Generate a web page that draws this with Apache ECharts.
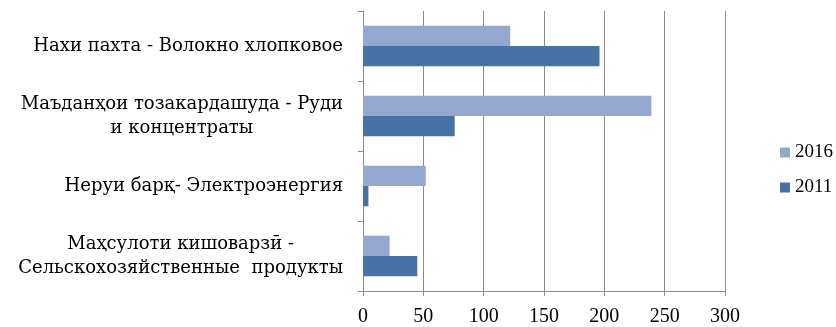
<!DOCTYPE html>
<html>
<head>
<meta charset="utf-8">
<style>
  html, body { margin: 0; padding: 0; background: #ffffff; }
  #chart { width: 836px; height: 327px; }
</style>
<script src="https://cdn.jsdelivr.net/npm/echarts@6/dist/echarts.min.js"></script>
</head>
<body>
<div id="chart"></div>
<script>
// Product groups, listed top to bottom
const categories = [
  'Нахи пахта - Волокно хлопковое',
  'Маъданҳои тозакардашуда - Руди\nи концентраты',
  'Неруи барқ- Электроэнергия',
  'Маҳсулоти кишоварзӣ -\nСельскохозяйственные  продукты'
];
const values2016 = [122, 239, 52, 22];
const values2011 = [196, 76, 4.5, 45];
const xTicks = { min: 0, max: 300, interval: 50 };

const serif = '"Liberation Serif", serif';
const wideSerif = '"DejaVu Serif", serif';
const axisGray = '#8c8c8c';

const chart = echarts.init(document.getElementById('chart'));
chart.setOption({
  animation: false,
  grid: { left: 363, right: 111, top: 11, bottom: 34, containLabel: false },
  legend: {
    orient: 'vertical',
    left: 775,
    top: 138,
    itemWidth: 10,
    itemHeight: 10,
    itemGap: 16,
    icon: 'rect',
    data: ['2016', '2011'],
    textStyle: { fontFamily: serif, fontSize: 19, lineHeight: 19, color: '#000' }
  },
  xAxis: {
    type: 'value',
    min: xTicks.min,
    max: xTicks.max,
    interval: xTicks.interval,
    axisLine: { show: true, lineStyle: { color: axisGray, width: 1 } },
    axisTick: { show: true, length: 5, lineStyle: { color: axisGray } },
    splitLine: { show: true, lineStyle: { color: axisGray, width: 1 } },
    axisLabel: { fontFamily: serif, fontSize: 20, color: '#000', margin: 16 }
  },
  yAxis: {
    type: 'category',
    inverse: true,
    data: categories,
    axisLine: { show: true, lineStyle: { color: axisGray, width: 1 } },
    axisTick: { show: true, length: 5, inside: false, lineStyle: { color: axisGray } },
    axisLabel: {
      fontFamily: wideSerif,
      fontSize: 18,
      color: '#000',
      margin: 20,
      lineHeight: 24,
      formatter: function (v) {
        return v.split('\n').map(function (l) { return '{c|' + l + '}'; }).join('\n');
      },
      rich: { c: { align: 'center', fontFamily: wideSerif, fontSize: 18, lineHeight: 24, color: '#000' } }
    }
  },
  series: [
    {
      name: '2016',
      type: 'bar',
      data: values2016,
      barGap: '0%',
      barCategoryGap: '42%',
      itemStyle: { color: '#94a8cf' }
    },
    {
      name: '2011',
      type: 'bar',
      data: values2011,
      barGap: '0%',
      barCategoryGap: '42%',
      itemStyle: { color: '#4672a5' }
    }
  ]
});
</script>
</body>
</html>
